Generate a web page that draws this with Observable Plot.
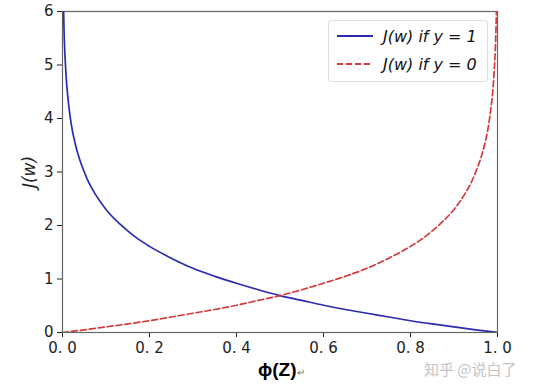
<!DOCTYPE html>
<html>
<head>
<meta charset="utf-8">
<script src="https://cdn.jsdelivr.net/npm/d3@7"></script>
<script src="https://cdn.jsdelivr.net/npm/@observablehq/plot@0.6"></script>
<style>
  body { margin: 0; background: #fff; }
  #wrap { position: relative; width: 540px; height: 388px; font-family: "DejaVu Sans", sans-serif; }
  g[aria-label="y-axis label"] text { font-style: italic; font-size: 17px; }
  #legend { position: absolute; left: 328px; top: 20px; width: 160px; height: 62px; border: 1px solid #ddd; border-radius: 3px; background: rgba(255,255,255,0.9); box-sizing: border-box; font-size: 16px; color: #111; }
  #legend .row { position: absolute; left: 8px; display: flex; align-items: center; }
  #legend .row span { margin-left: 10px; font-style: italic; font-family: "DejaVu Sans", sans-serif; }
  #xl { position: absolute; left: 258px; top: 359px; font-family: "Liberation Sans", sans-serif; font-weight: bold; font-size: 19px; line-height: 22px; color: #000; }
  #xl small { font-weight: normal; font-size: 10px; color: #777; }
  #wm { position: absolute; left: 424px; top: 361px; line-height: 15px; color: #c4c4c4; font-size: 15px; font-family: "Noto Sans CJK SC", sans-serif; }
</style>
</head>
<body>
<div id="wrap"></div>
<script>
// phi(Z) sample points and J(w) values
const phiBlue = [0.0025, 0.004, 0.005, 0.0075, 0.01, 0.015, 0.02, 0.03, 0.04, 0.05, 0.06, 0.075, 0.1, 0.125, 0.15, 0.175, 0.2, 0.25, 0.3, 0.35, 0.4, 0.45, 0.5, 0.55, 0.6, 0.65, 0.7, 0.75, 0.8, 0.85, 0.9, 0.95, 1.0];
const costY1 = [6.0, 5.52, 5.3, 4.9, 4.6, 4.2, 3.9, 3.5, 3.22, 3.0, 2.81, 2.59, 2.3, 2.08, 1.9, 1.74, 1.61, 1.39, 1.2, 1.05, 0.92, 0.8, 0.69, 0.6, 0.51, 0.43, 0.36, 0.29, 0.22, 0.16, 0.105, 0.05, 0.0];
const phiRed = [0.0, 0.05, 0.1, 0.15, 0.2, 0.25, 0.3, 0.35, 0.4, 0.45, 0.5, 0.55, 0.6, 0.65, 0.7, 0.75, 0.8, 0.825, 0.85, 0.875, 0.9, 0.925, 0.94, 0.95, 0.96, 0.97, 0.98, 0.985, 0.99, 0.9925, 0.995, 0.996, 0.9975];
const costY0 = [0.0, 0.05, 0.105, 0.16, 0.22, 0.29, 0.36, 0.43, 0.51, 0.6, 0.69, 0.8, 0.92, 1.05, 1.2, 1.39, 1.61, 1.74, 1.9, 2.08, 2.3, 2.59, 2.81, 3.0, 3.22, 3.5, 3.9, 4.2, 4.6, 4.9, 5.3, 5.52, 6.0];
const xTicks = [0, 0.2, 0.4, 0.6, 0.8, 1.0];
const xTickLabels = ["0. 0", "0. 2", "0. 4", "0. 6", "0. 8", "1. 0"];
const yTicks = [0, 1, 2, 3, 4, 5, 6];
const seriesNames = ["J(w) if y = 1", "J(w) if y = 0"];
const colors = ["#2b2bb0", "#d43a3a"];

const blue = phiBlue.map((p, i) => ({phi: p, cost: costY1[i]}));
const red = phiRed.map((p, i) => ({phi: p, cost: costY0[i]}));

const chart = Plot.plot({
  width: 540,
  height: 388,
  marginLeft: 62,
  marginRight: 43,
  marginTop: 11,
  marginBottom: 56,
  style: {fontSize: "15px", fontFamily: "DejaVu Sans, sans-serif", color: "#222", background: "#fff"},
  x: {domain: [0, 1], ticks: xTicks, tickFormat: (d) => xTickLabels[xTicks.indexOf(d)], tickSize: 5, tickPadding: 5, label: null},
  y: {domain: [0, 6], ticks: yTicks, tickFormat: d3.format("d"), tickSize: 5, tickPadding: 4, label: "J(w)", labelAnchor: "center", labelOffset: 40, labelArrow: "none"},
  marks: [
    Plot.frame({stroke: "#666", strokeWidth: 1.2}),
    Plot.line(blue, {x: "phi", y: "cost", stroke: colors[0], strokeWidth: 1.7, curve: "monotone-x", clip: true}),
    Plot.line(red, {x: "phi", y: "cost", stroke: colors[1], strokeWidth: 1.7, strokeDasharray: "6,3", curve: "monotone-x", clip: true})
  ]
});
const wrap = document.getElementById("wrap");
wrap.appendChild(chart);
// strip any arrow Plot may append to the y label
chart.querySelectorAll('g[aria-label="y-axis label"] text').forEach(t => { t.textContent = t.textContent.replace(/\s*[↑→]\s*/g, ""); });

const legend = document.createElement("div");
legend.id = "legend";
seriesNames.forEach((name, i) => {
  const row = document.createElement("div");
  row.className = "row";
  row.style.top = (i === 0 ? 5 : 33) + "px";
  row.innerHTML = `<svg width="36" height="20"><line x1="0" x2="36" y1="10" y2="10" stroke="${colors[i]}" stroke-width="1.8" ${i === 1 ? 'stroke-dasharray="6,3"' : ''}/></svg><span>${name}</span>`;
  legend.appendChild(row);
});
wrap.appendChild(legend);

const xl = document.createElement("div");
xl.id = "xl";
xl.innerHTML = "ϕ(Z)<small>↵</small>";
wrap.appendChild(xl);

const wm = document.createElement("div");
wm.id = "wm";
wm.textContent = "知乎 @说白了";
wrap.appendChild(wm);
</script>
</body>
</html>
